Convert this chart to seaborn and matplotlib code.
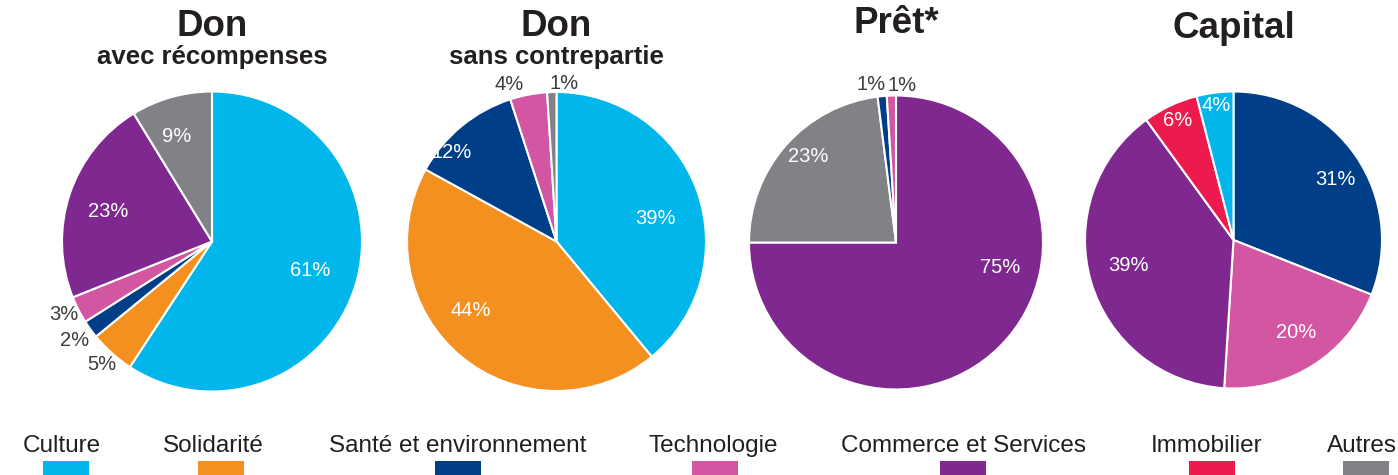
import numpy as np
import matplotlib
matplotlib.use("Agg")
import matplotlib.pyplot as plt
from matplotlib.patches import Rectangle
import seaborn as sns

# -------------------- DATA --------------------
categories = ["Culture", "Solidarité", "Santé et environnement", "Technologie",
              "Commerce et Services", "Immobilier", "Autres"]
palette = ["#00B6EB", "#F39020", "#003F87", "#D256A1", "#7F288F", "#ED1A4E", "#808285"]

don_recomp_cats = ["Culture", "Solidarité", "Santé et environnement", "Technologie",
                   "Commerce et Services", "Autres"]
don_recomp_vals = [61, 5, 2, 3, 23, 9]

don_sans_cats = ["Culture", "Solidarité", "Santé et environnement", "Technologie", "Autres"]
don_sans_vals = [39, 44, 12, 4, 1]

pret_cats = ["Commerce et Services", "Autres", "Santé et environnement", "Technologie"]
pret_vals = [75, 23, 1, 1]

capital_cats = ["Santé et environnement", "Technologie", "Commerce et Services",
                "Immobilier", "Culture"]
capital_vals = [31, 20, 39, 6, 4]

titles = ["Don", "Don", "Prêt*", "Capital"]
subtitles = ["avec récompenses", "sans contrepartie", "", ""]

# -------------------- LAYOUT --------------------
W, H = 1398, 475
sns.set_theme(style="white")
plt.rcParams["font.family"] = ["Liberation Sans Narrow", "Liberation Sans", "DejaVu Sans"]

color_of = dict(zip(categories, palette))

# centre / radius in pixels, title + subtitle baselines, label radius and angle nudge
pies = [
    dict(cats=don_recomp_cats, vals=don_recomp_vals, cx=212, cy=241.5, r=150,
         ty=36, sy=64, dist=[0.68, 1.1, 1.13, 1.1, 0.72, 0.74], off=[0, 0, 0, -1, 2, 2.6]),
    dict(cats=don_sans_cats, vals=don_sans_vals, cx=556.5, cy=241.5, r=149.5,
         ty=36, sy=64, dist=[0.68, 0.74, 0.92, 1.1, 1.06], off=[-7, -11.6, 10, 6, -4.7]),
    dict(cats=pret_cats, vals=pret_vals, cx=896, cy=242.5, r=147,
         ty=33, sy=None, dist=[0.73, 0.84, 1.09, 1.07], off=[31.5, -3, 3.5, -4]),
    dict(cats=capital_cats, vals=capital_vals, cx=1233.5, cy=240, r=148.5,
         ty=38, sy=None, dist=[0.8, 0.75, 0.73, 0.89, 0.91], off=[-3.7, 1.6, -2.8, 0, 0]),
]

fig = plt.figure(figsize=(W / 100, H / 100), dpi=100)
fig.patch.set_facecolor("white")

title_font = ["Liberation Sans", "DejaVu Sans"]

for p, title, sub in zip(pies, titles, subtitles):
    cx, cy, r = p["cx"], p["cy"], p["r"]
    ax = fig.add_axes([(cx - r) / W, (H - cy - r) / H, 2 * r / W, 2 * r / H])
    wedges, _ = ax.pie(p["vals"], colors=[color_of[c] for c in p["cats"]],
                       startangle=90, counterclock=False,
                       wedgeprops=dict(edgecolor="white", linewidth=1.5))
    ax.set_xlim(-1, 1)
    ax.set_ylim(-1, 1)
    ax.set_aspect("equal")
    ax.axis("off")
    for w, v, d, o in zip(wedges, p["vals"], p["dist"], p["off"]):
        ang = np.deg2rad((w.theta1 + w.theta2) / 2 + o)
        col = "white" if d < 1 else "#3C3C3C"
        ax.text(d * np.cos(ang), d * np.sin(ang), f"{v}%", ha="center", va="center",
                fontsize=14.5, color=col, clip_on=False)

    fig.text(cx / W, 1 - p["ty"] / H, title, ha="center", va="baseline",
             fontsize=26.5, fontweight="bold", color="#231F20", family=title_font)
    if sub:
        fig.text(cx / W, 1 - p["sy"] / H, sub, ha="center", va="baseline",
                 fontsize=18.5, fontweight="bold", color="#231F20", family=title_font)

# -------------------- LEGEND --------------------
legend_text_x = [62, 213, 458, 713, 963, 1207, 1362]
legend_box_x = [66, 221, 458, 715, 963, 1212, 1366]
for name, col, tx, bx in zip(categories, palette, legend_text_x, legend_box_x):
    fig.text(tx / W, 1 - 452 / H, name, ha="center", va="baseline",
             fontsize=17.5, color="#231F20")
    fig.patches.append(Rectangle(((bx - 23) / W, 0), 46 / W, 14 / H,
                                 transform=fig.transFigure, facecolor=col,
                                 edgecolor="none", figure=fig))

fig.savefig("out.png", dpi=100)
